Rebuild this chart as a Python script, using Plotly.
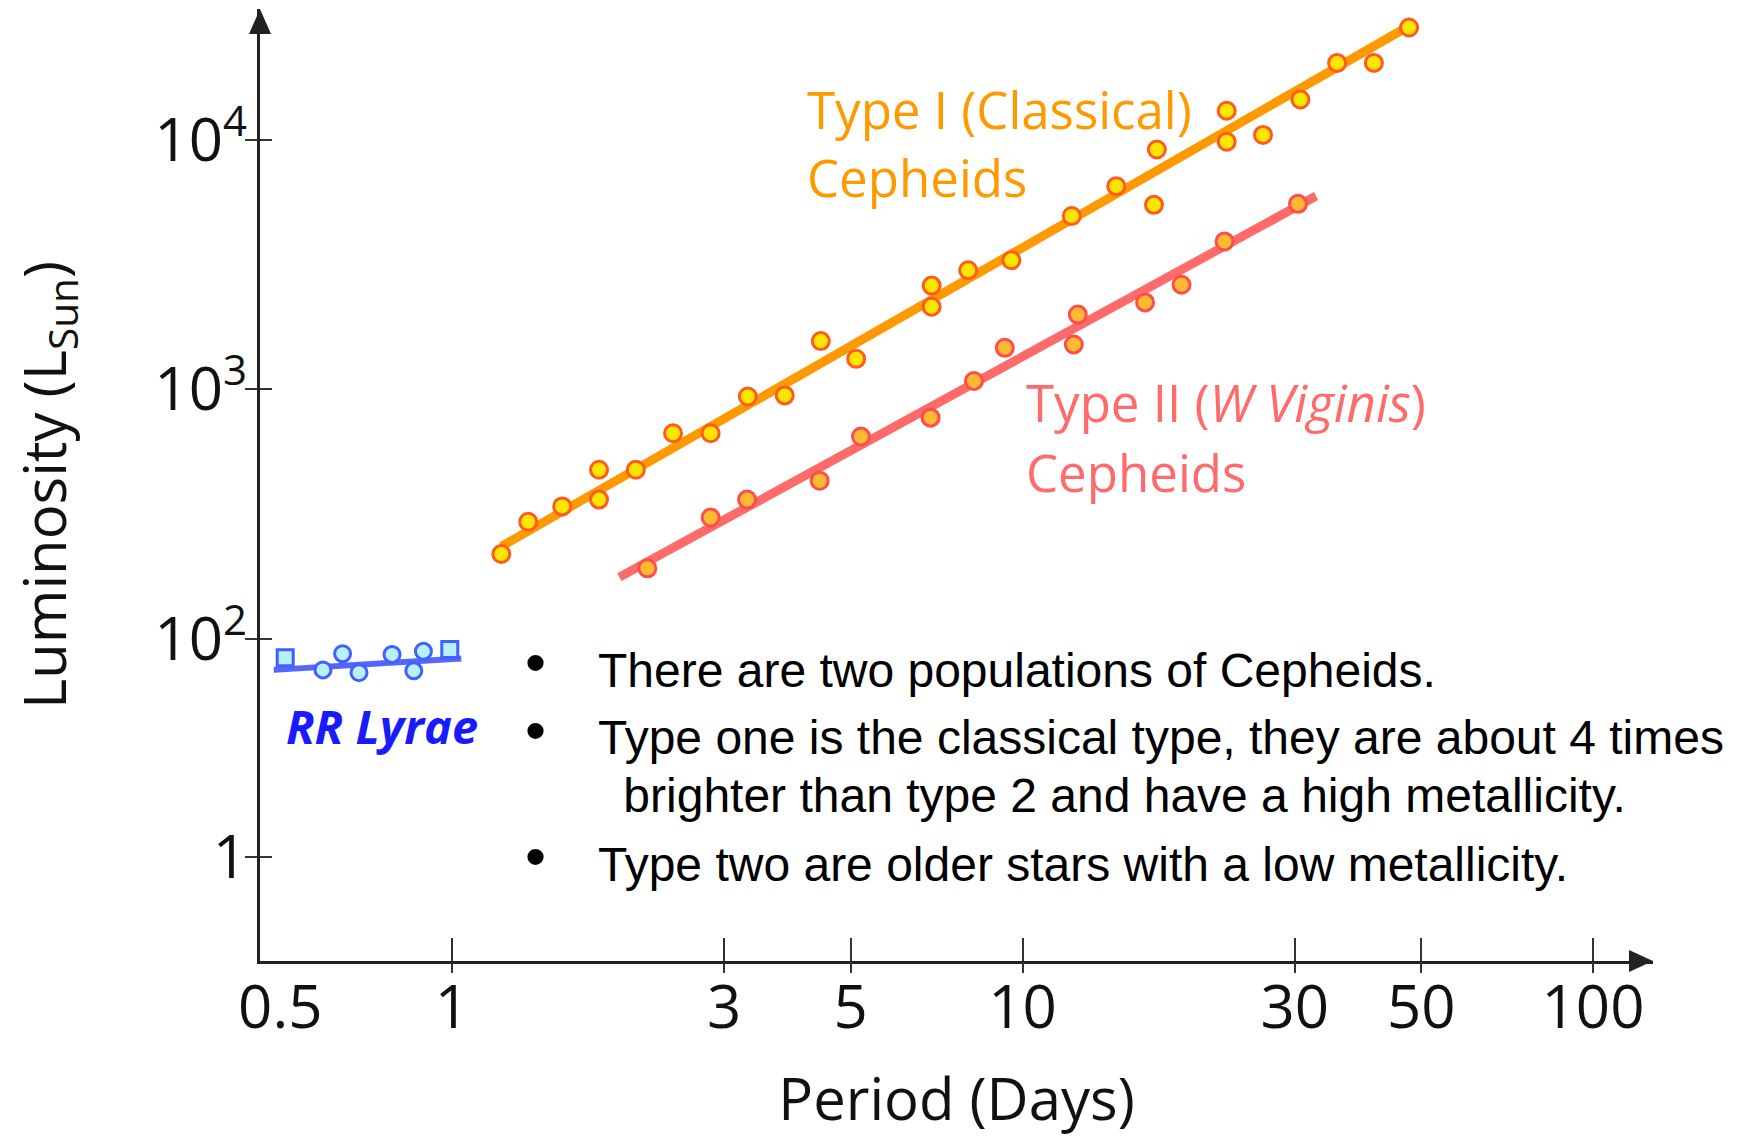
import plotly.graph_objects as go

# ---------------- data ----------------
TYPE1_PERIOD = [1.22, 1.36, 1.56, 1.81, 1.81, 2.10, 2.44, 2.84, 3.30, 3.83, 4.43, 5.11,
                6.93, 6.93, 8.03, 9.56, 12.2, 14.6, 17.0, 17.2, 22.8, 22.8, 26.4, 30.7,
                35.6, 41.3, 47.6]
TYPE1_LUM = [219, 295, 340, 477, 362, 477, 668, 668, 937, 947, 1563, 1327,
             2608, 2145, 3006, 3297, 4957, 6530, 5495, 9160, 13100, 9840, 10480, 14530,
             20370, 20370, 28240]
TYPE1_FIT_PERIOD = [1.22, 48.2]
TYPE1_FIT_LUM = [235, 29100]

TYPE2_PERIOD = [2.20, 2.84, 3.29, 4.41, 5.21, 6.90, 8.22, 9.31, 12.3, 12.5, 16.4, 19.0, 22.6, 30.4]
TYPE2_LUM = [192, 307, 362, 431, 648, 771, 1081, 1469, 1515, 1996, 2234, 2630, 3921, 5548]
TYPE2_FIT_PERIOD = [1.965, 32.7]
TYPE2_FIT_LUM = [177, 5960]

RR_PERIOD = [0.510, 0.594, 0.643, 0.687, 0.785, 0.857, 0.891, 0.991]
RR_LUM = [84.1, 75.2, 87.3, 73.3, 86.7, 74.6, 89.3, 90.7]
RR_SYMBOLS = ["square", "circle", "circle", "circle", "circle", "circle", "circle", "square"]
RR_FIT_PERIOD = [0.487, 1.038]
RR_FIT_LUM = [75.2, 83.6]

X_TICK_VALS = [0.5, 1, 3, 5, 10, 30, 50, 100]
X_TICK_TEXT = ["0.5", "1", "3", "5", "10", "30", "50", "100"]
X_TICK_MARKS = [1, 3, 5, 10, 30, 50, 100]
Y_TICK_VALS = [13.4, 100, 1000, 10000]
Y_TICK_TEXT = ["1", "10<sup>2</sup>", "10<sup>3</sup>", "10<sup>4</sup>"]

BULLETS = [
    "There are two populations of Cepheids.",
    "Type one is the classical type, they are about 4 times",
    " brighter than type 2 and have a high metallicity.",
    "Type two are older stars with a low metallicity.",
]

# ---------------- layout geometry ----------------
W, H = 1737, 1137
L, R, T, B = 260, 84, 9, 176
PW, PH = W - L - R, H - T - B


def px(x):
    return (x - L) / PW


def py(y):
    return (H - B - y) / PH


FONT = "Open Sans"
ORANGE = "#FF9900"
PINK = "#FF6B6B"
BLUE = "#5566FF"

fig = go.Figure()

# fit lines
fig.add_trace(go.Scatter(x=TYPE1_FIT_PERIOD, y=TYPE1_FIT_LUM, mode="lines",
                         line=dict(color=ORANGE, width=9), hoverinfo="skip"))
fig.add_trace(go.Scatter(x=TYPE2_FIT_PERIOD, y=TYPE2_FIT_LUM, mode="lines",
                         line=dict(color=PINK, width=9), hoverinfo="skip"))
fig.add_trace(go.Scatter(x=RR_FIT_PERIOD, y=RR_FIT_LUM, mode="lines",
                         line=dict(color=BLUE, width=6), hoverinfo="skip"))

# points
fig.add_trace(go.Scatter(x=TYPE1_PERIOD, y=TYPE1_LUM, mode="markers", name="Type I",
                         marker=dict(size=17, color="#FFE600",
                                     line=dict(color="#FF5A1F", width=3))))
fig.add_trace(go.Scatter(x=TYPE2_PERIOD, y=TYPE2_LUM, mode="markers", name="Type II",
                         marker=dict(size=17, color="#FFB933",
                                     line=dict(color="#FF4D4D", width=3))))
fig.add_trace(go.Scatter(x=RR_PERIOD, y=RR_LUM, mode="markers", name="RR Lyrae",
                         marker=dict(size=16, color="#B8F0FF", symbol=RR_SYMBOLS,
                                     line=dict(color="#4060FF", width=3))))

# dummy trace on overlay axis (for outward tick marks)
fig.add_trace(go.Scatter(x=[None], y=[None], xaxis="x2", showlegend=False, hoverinfo="skip"))

tickfont = dict(family=FONT, size=60, color="#111")

fig.update_layout(
    width=W, height=H,
    margin=dict(l=L, r=R, t=T, b=B, autoexpand=False),
    paper_bgcolor="white", plot_bgcolor="white",
    showlegend=False,
    xaxis=dict(
        type="log", range=[-0.3366, 2.1052], automargin=False,
        tickmode="array", tickvals=X_TICK_VALS, ticktext=X_TICK_TEXT,
        ticks="", tickfont=tickfont, ticklabelstandoff=-8,
        showgrid=False, zeroline=False,
        showline=True, linecolor="#222", linewidth=3,
        minor=dict(tickmode="array", tickvals=X_TICK_MARKS, ticks="inside",
                   ticklen=23, tickwidth=2, tickcolor="#333", showgrid=False),
        title=dict(text="Period (Days)", font=dict(family=FONT, size=58, color="#111"),
                   standoff=58),
    ),
    xaxis2=dict(
        type="log", range=[-0.3366, 2.1052], overlaying="x", anchor="y", side="bottom",
        automargin=False,
        tickmode="array", tickvals=X_TICK_MARKS, ticks="outside", ticklen=11,
        tickwidth=2, tickcolor="#333", showticklabels=False,
        showgrid=False, zeroline=False, showline=False,
    ),
    yaxis=dict(
        type="log", range=[0.7094, 4.525], automargin=False,
        tickmode="array", tickvals=Y_TICK_VALS, ticktext=Y_TICK_TEXT,
        ticks="outside", ticklen=12, tickwidth=2, tickcolor="#333",
        tickfont=tickfont, ticklabelstandoff=-14,
        showgrid=False, zeroline=False,
        showline=True, linecolor="#222", linewidth=3,
        minor=dict(tickmode="array", tickvals=Y_TICK_VALS, ticks="inside",
                   ticklen=12, tickwidth=2, tickcolor="#333", showgrid=False),
        title=dict(text="Luminosity (L<sub>Sun</sub>)",
                   font=dict(family=FONT, size=58, color="#111"), standoff=70),
    ),
)

# arrow heads on the axes
fig.add_shape(type="path", xref="paper", yref="paper",
              path=f"M {px(260)},{py(9)} L {px(249)},{py(34)} L {px(271)},{py(34)} Z",
              fillcolor="#222", line=dict(width=0))
fig.add_shape(type="path", xref="paper", yref="paper",
              path=f"M {px(1653)},{py(961)} L {px(1629)},{py(950)} L {px(1629)},{py(972)} Z",
              fillcolor="#222", line=dict(width=0))


def note(text, x, y, size, color, xanchor="left", family=FONT):
    fig.add_annotation(text=text, x=px(x), y=py(y), xref="paper", yref="paper",
                       xanchor=xanchor, yanchor="middle", showarrow=False,
                       font=dict(family=family, size=size, color=color))


note("Type I (Classical)", 805, 109, 51, ORANGE)
note("Cepheids", 805, 177, 51, ORANGE)
note("Type II (<i>W Viginis</i>)", 1024, 402, 51, PINK)
note("Cepheids", 1024, 472, 51, PINK)
note("<b><i>RR Lyrae</i></b>", 284, 726, 47, "#1A1AFF")

ARIAL = "Liberation Sans"
BULLET_Y = [670, 737, 795, 864]
BULLET_X = [596, 596, 608, 596]
for txt, yy, xx in zip(BULLETS, BULLET_Y, BULLET_X):
    note(txt, xx, yy, 48, "#000", family=ARIAL)
for yy in [662, 730, 856]:
    note("•", 535, yy, 60, "#000", xanchor="center", family=ARIAL)

fig.write_html("out.html")
